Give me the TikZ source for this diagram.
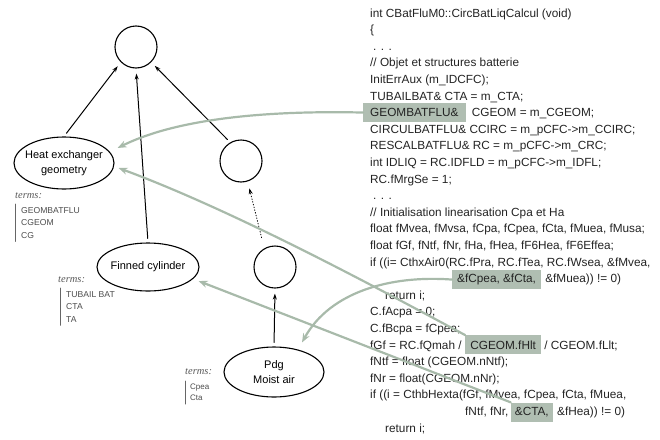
\documentclass[tikz,border=0pt]{standalone}
\usepackage{fontspec}
\setmainfont{Liberation Sans}
\newfontfamily\termsfont{Liberation Serif}
\usetikzlibrary{shapes.geometric,arrows.meta}
\definecolor{flowgray}{RGB}{168,186,170}
\definecolor{hlgray}{RGB}{176,190,178}
\definecolor{txtgray}{RGB}{35,35,35}
\tikzset{
  cir/.style={circle,draw,line width=1.1pt,minimum size=42pt,inner sep=0pt},
  elli/.style={ellipse,draw,line width=1.1pt,inner ysep=0pt,inner xsep=-4pt,align=center,font=\fontsize{11}{15}\selectfont},
  code/.style={anchor=base west,inner sep=0pt,text=txtgray,font=\fontsize{11.8}{17}\selectfont},
  hl/.style={code,fill=hlgray,inner xsep=5pt,minimum height=19pt},
  link/.style={line width=1pt,-{Stealth[length=6pt,width=4pt]},shorten <=4pt,shorten >=5pt},
  flow/.style={draw=flowgray,line width=2.2pt,-{Stealth[length=9pt,width=7pt]}},
  termlab/.style={anchor=west,inner sep=0pt,text=black!65,font=\termsfont\itshape\fontsize{10.5}{12}\selectfont},
  termlist/.style={anchor=north west,inner sep=0pt,align=left,text=black!70,font=\fontsize{8.6}{12.5}\selectfont},
  bar/.style={line width=0.8pt,black!60}
}
\begin{document}
\begin{tikzpicture}[x=1pt,y=-1pt,line join=round,line cap=round]
\useasboundingbox (0,0) rectangle (660,439);
% concept graph
\node[cir] (top) at (136,47) {};
\node[cir] (rc) at (241,161) {};
\node[cir] (lc) at (275,267) {};
\node[elli,minimum width=100pt,minimum height=52pt] (hx) at (64,163) {Heat exchanger\\geometry};
\node[elli,minimum width=102pt,minimum height=48pt] (fc) at (148,267) {Finned cylinder};
\node[elli,minimum width=100pt,minimum height=50pt] (pdg) at (274,372) {Pdg\\Moist air};
\draw[link] (hx.north) -- (top.225);
\draw[link] (fc.north) -- (top.south);
\draw[link] (rc.120) -- (top.-45);
\draw[link,line width=0.8pt,dotted,shorten <=11pt,shorten >=7pt] (lc.120) -- (rc.-72);
\draw[link] (pdg.north) -- (lc.south);
% terms
\node[termlab] (khx) at (15,196) {terms:};
\node[termlist] (thx) at (21,207) {GEOMBATFLU\\CGEOM\\CG};
\draw[bar] ([shift={(-6pt,3pt)}]thx.north west) -- ([shift={(-6pt,-3pt)}]thx.south west);
\node[termlab] (kfc) at (58,280) {terms:};
\node[termlist] (tfc) at (66,291) {TUBAIL BAT\\CTA\\TA};
\draw[bar] ([shift={(-6pt,3pt)}]tfc.north west) -- ([shift={(-6pt,-3pt)}]tfc.south west);
\node[termlab] (kpdg) at (185,372) {terms:};
\node[termlist,font=\fontsize{8}{11}\selectfont] (tpdg) at (190,384) {Cpea\\Cta};
\draw[bar] ([shift={(-5pt,3pt)}]tpdg.north west) -- ([shift={(-5pt,-3pt)}]tpdg.south west);
% code
\foreach \k/\x/\t in {
  1/370/{int CBatFluM0::CircBatLiqCalcul (void)},
  2/370/{\{},
  3/373/{. . .},
  4/370/{// Objet et structures batterie},
  5/370/{InitErrAux (m\_IDCFC);},
  6/370/{TUBAILBAT\& CTA = m\_CTA;},
  8/370/{CIRCULBATFLU\& CCIRC = m\_pCFC->m\_CCIRC;},
  9/370/{RESCALBATFLU\& RC = m\_pCFC->m\_CRC;},
  10/370/{int IDLIQ = RC.IDFLD = m\_pCFC->m\_IDFL;},
  11/370/{RC.fMrgSe = 1;},
  12/373/{. . .},
  13/370/{// Initialisation linearisation Cpa et Ha},
  14/370/{float fMvea, fMvsa, fCpa, fCpea, fCta, fMuea, fMusa;},
  15/370/{float fGf, fNtf, fNr, fHa, fHea, fF6Hea, fF6Effea;},
  16/370/{if ((i= CthxAir0(RC.fPra, RC.fTea, RC.fWsea, \&fMvea,},
  18/385/{return i;},
  19/370/{C.fAcpa = 0;},
  20/370/{C.fBcpa = fCpea;},
  22/370/{fNtf = float (CGEOM.nNtf);},
  23/370/{fNr = float(CGEOM.nNr);},
  24/370/{if ((i = CthbHexta(fGf, fMvea, fCpea, fCta, fMuea,},
  26/385/{return i;}}{
  \node[code] (l\k) at (\x,17+16.6*\k-16.6) {\t};
}
\node[hl,inner xsep=7pt] (hgeom) at (363,116.6) {GEOMBATFLU\&};
\node[code,xshift=6pt] (l7) at (hgeom.base east) {CGEOM = m\_CGEOM;};
\node[hl] (hcpea) at (452,282.6) {\&fCpea, \&fCta,};
\node[code,xshift=4pt] (l17) at (hcpea.base east) {\&fMuea)) != 0)};
\node[code] (l21) at (370,349) {fGf = RC.fQmah /};
\node[hl,xshift=3.3pt] (hhlt) at (l21.base east) {CGEOM.fHlt};
\node[code,xshift=3pt] (l21b) at (hhlt.base east) {/ CGEOM.fLlt;};
\node[code] (l25) at (465,415.4) {fNtf, fNr,};
\node[hl,inner xsep=4pt,xshift=2pt] (hcta) at (l25.base east) {\&CTA,};
\node[code,xshift=4pt] (l25b) at (hcta.base east) {\&fHea)) != 0)};
% links code -> concepts
\draw[flow] (hgeom.west) .. controls (250,110) and (170,122) .. ([shift={(3pt,15pt)}]hx.east);
\draw[flow] (hhlt.north west) .. controls (390,295) and (240,213) .. ([shift={(4pt,-5pt)}]hx.east);
\draw[flow] (hcta.north west) -- ([shift={(-1pt,-14pt)}]fc.east);
\draw[flow] (hcpea.west) .. controls (390,275) and (330,292) .. ([shift={(28pt,4pt)}]pdg.north);
\end{tikzpicture}
\end{document}
